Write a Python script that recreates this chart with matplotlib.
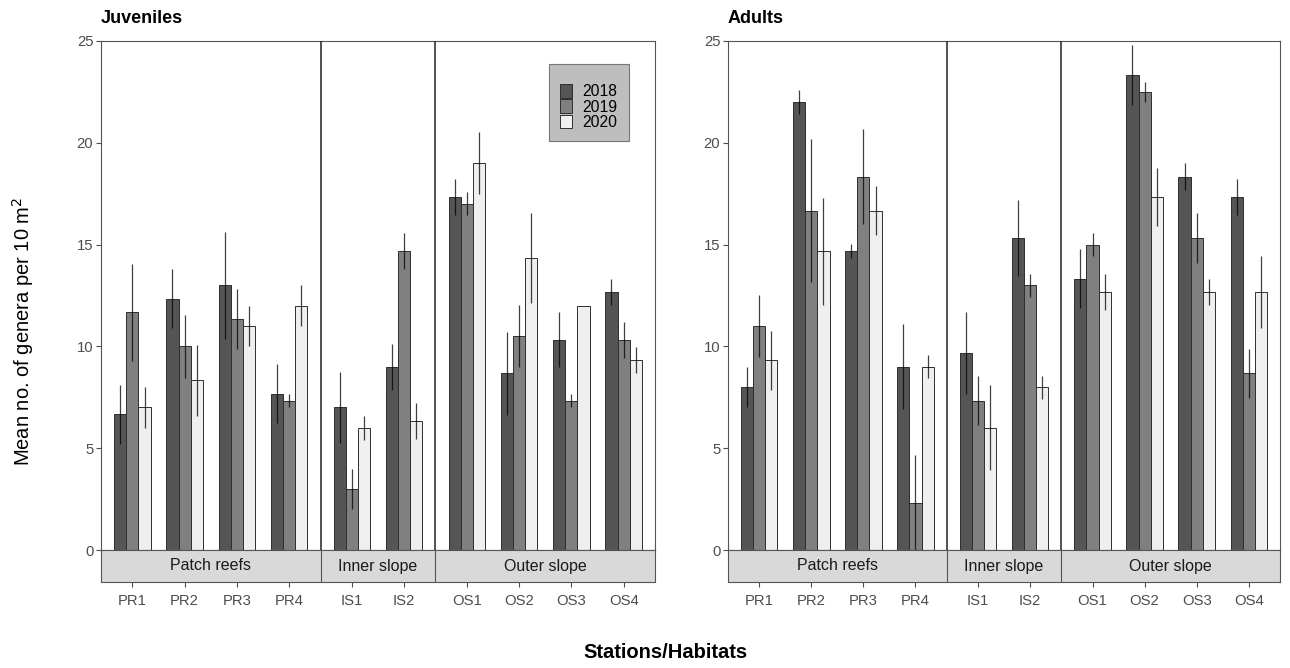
import numpy as np
import matplotlib.pyplot as plt
from matplotlib.patches import Rectangle

plt.rcParams['font.family'] = ['Liberation Sans', 'DejaVu Sans']

###
# Data
###

stations = ['PR1', 'PR2', 'PR3', 'PR4', 'IS1', 'IS2', 'OS1', 'OS2', 'OS3', 'OS4']
habitats = ['Patch reefs', 'Inner slope', 'Outer slope']
habitat_sizes = [4, 2, 4]
years = ['2018', '2019', '2020']

# juveniles, means and SE
juv_2018 = [6.67, 12.33, 13.0, 7.67, 7.0, 9.0, 17.33, 8.67, 10.33, 12.67]
juv_2019 = [11.67, 10.0, 11.33, 7.33, 3.0, 14.67, 17.0, 10.5, 7.33, 10.33]
juv_2020 = [7.0, 8.33, 11.0, 12.0, 6.0, 6.33, 19.0, 14.33, 12.0, 9.33]
juv_se_2018 = [1.44, 1.45, 2.64, 1.45, 1.75, 1.14, 0.89, 2.04, 1.35, 0.65]
juv_se_2019 = [2.4, 1.53, 1.47, 0.32, 0.99, 0.88, 0.57, 1.51, 0.31, 0.88]
juv_se_2020 = [0.99, 1.76, 1.0, 1.01, 0.58, 0.87, 1.53, 2.2, 0.0, 0.66]

# adults, means and SE
adu_2018 = [8.0, 22.0, 14.67, 9.0, 9.67, 15.33, 13.33, 23.33, 18.33, 17.33]
adu_2019 = [11.0, 16.67, 18.33, 2.33, 7.33, 13.0, 15.0, 22.5, 15.33, 8.67]
adu_2020 = [9.33, 14.67, 16.67, 9.0, 6.0, 8.0, 12.67, 17.33, 12.67, 12.67]
adu_se_2018 = [0.99, 0.59, 0.35, 2.08, 2.03, 1.86, 1.46, 1.47, 0.66, 0.89]
adu_se_2019 = [1.54, 3.53, 2.33, 2.32, 1.2, 0.58, 0.57, 0.49, 1.21, 1.19]
adu_se_2020 = [1.45, 2.62, 1.19, 0.57, 2.09, 0.56, 0.88, 1.44, 0.65, 1.76]

fills = ['#555555', '#808080', '#efefef']

###
# x positions - facets with free space, 0.6 padding each side
###

xpos = []
bounds = [0.0]
start = 0.0
for n in habitat_sizes:
    xpos += [start + 0.6 + i for i in range(n)]
    start += n + 0.2
    bounds.append(start)
xpos = np.array(xpos)
centers = [(bounds[i] + bounds[i + 1]) / 2 for i in range(len(habitat_sizes))]

bar_w = 0.7 / 3

###
# Plotting
###

fig = plt.figure(figsize=(12.9, 6.68), dpi=100)

W, H = 1290, 668
def frac(x0, y0, x1, y1):
    return [x0 / W, 1 - y1 / H, (x1 - x0) / W, (y1 - y0) / H]

grey_txt = '#4d4d4d'
border = '#555555'
TOP, BOT = 41, 550


def panel(x0, x1, means, ses, title, legend=False):
    ax = fig.add_axes(frac(x0, TOP, x1, BOT))
    sx = fig.add_axes(frac(x0, BOT, x1, 582))

    for k in range(3):
        ax.bar(xpos + (k - 1) * bar_w, means[k], width=bar_w, color=fills[k],
               edgecolor='#2e2e2e', linewidth=0.7, label=years[k], zorder=2)
    for k in range(3):
        ax.errorbar(xpos + (k - 1) * bar_w, means[k], yerr=ses[k], fmt='none',
                    ecolor='black', elinewidth=0.9, alpha=0.75, capsize=0, zorder=3)

    ax.set_xlim(bounds[0], bounds[-1])
    ax.set_ylim(0, 25)
    ax.set_yticks([0, 5, 10, 15, 20, 25])
    ax.set_xticks([])
    ax.tick_params(axis='y', length=3.5, width=0.8, colors=grey_txt, labelsize=10.7, pad=2)
    for s in ax.spines.values():
        s.set_color(border)
        s.set_linewidth(0.8)
    for b in bounds[1:-1]:
        ax.axvline(b, color='#222222', linewidth=1.1, zorder=4)

    ax.text(0, 1.027, title, transform=ax.transAxes, fontsize=13,
            fontweight='bold', ha='left', va='bottom')

    # strip at the bottom
    sx.set_facecolor('#d9d9d9')
    sx.set_xlim(bounds[0], bounds[-1])
    sx.set_ylim(0, 1)
    sx.set_yticks([])
    sx.set_xticks(xpos)
    sx.set_xticklabels(stations)
    sx.tick_params(axis='x', length=3.5, width=0.8, colors=grey_txt, labelsize=10.7, pad=5)
    for s in sx.spines.values():
        s.set_color(border)
        s.set_linewidth(0.8)
    for b in bounds[1:-1]:
        sx.axvline(b, color=border, linewidth=0.8)
    for c, name in zip(centers, habitats):
        sx.text(c, 0.5, name, ha='center', va='center', fontsize=11.5, color='#1a1a1a')

    if legend:
        # legend box (grey background like the ggplot legend)
        pw, ph = x1 - x0, BOT - TOP
        bx0, by0, bx1, by1 = 549, 64, 629, 141
        ax.add_patch(Rectangle(((bx0 - x0) / pw, 1 - (by1 - TOP) / ph),
                               (bx1 - bx0) / pw, (by1 - by0) / ph,
                               transform=ax.transAxes, facecolor='#bebebe',
                               edgecolor='#777777', linewidth=0.8, zorder=5))
        leg = ax.legend(loc='upper left',
                        bbox_to_anchor=((560 - x0) / pw, 1 - (84 - TOP) / ph),
                        fontsize=11.3, frameon=False, handlelength=0.76,
                        handleheight=0.98, labelspacing=0.0, handletextpad=0.65,
                        borderpad=0, borderaxespad=0)
        leg.set_zorder(6)
    return ax


panel(101, 655, [juv_2018, juv_2019, juv_2020],
      [juv_se_2018, juv_se_2019, juv_se_2020], 'Juveniles', legend=True)
panel(728, 1280, [adu_2018, adu_2019, adu_2020],
      [adu_se_2018, adu_se_2019, adu_se_2020], 'Adults')

fig.text(23 / W, 1 - 331 / H, 'Mean no. of genera per 10 m$^{2}$', rotation=90,
         ha='center', va='center', fontsize=14.5)
fig.text(665 / W, 1 - 652 / H, 'Stations/Habitats', ha='center', va='center',
         fontsize=14.5, fontweight='bold')

plt.savefig('out.png', dpi=100)
